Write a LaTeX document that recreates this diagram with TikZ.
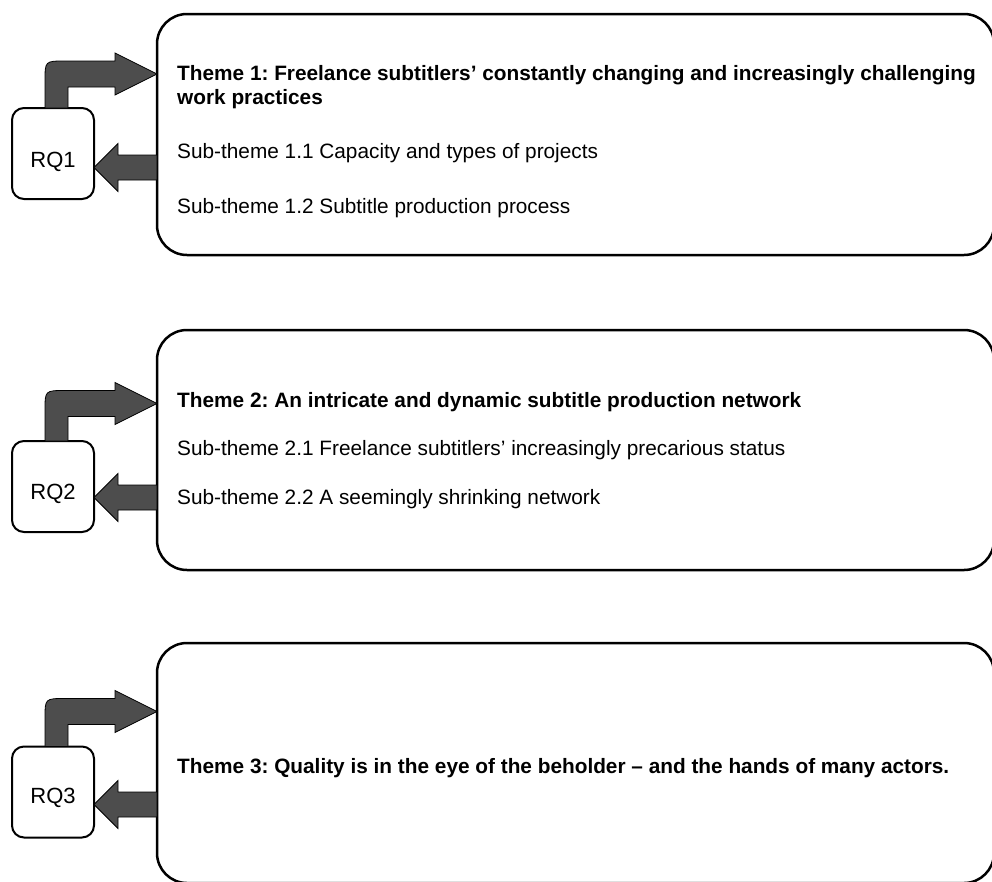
\documentclass[tikz,border=0pt]{standalone}
\usepackage{fontspec}
\setmainfont{Liberation Sans}
\usetikzlibrary{calc}
\frenchspacing
\definecolor{arrowgray}{RGB}{77,77,77}
\tikzset{
  themebox/.style={draw=black, line width=2.5pt, rounded corners=30pt, fill=white,
    minimum width=837pt, outer sep=0pt, inner sep=0pt},
  rqbox/.style={draw=black, line width=2pt, rounded corners=12pt, fill=white,
    minimum width=82pt, minimum height=91pt, outer sep=0pt, inner sep=0pt,
    font=\fontsize{22}{26}\selectfont},
  arrowshape/.style={fill=arrowgray, draw=black, line width=0.8pt, line join=miter},
  headtxt/.style={anchor=base west, inner sep=0pt, font=\fontsize{20.8}{24}\selectfont\bfseries},
  subtxt/.style={anchor=base west, inner sep=0pt, font=\fontsize{20.8}{24}\selectfont},
}
\newcommand\bentarrow[3]{%
  \coordinate (#1ty) at ($(#1.north west)+(0,-#3)$);
  \coordinate (#1tip) at (#2.west |- #1ty);
  \draw[arrowshape] ($(#1.north west)+(33,0)$) -- ($(#1ty)+(33,7)$)
    .. controls ($(#1ty)+(33,-13)$) .. ($(#1ty)+(53,-13)$)
    -- ($(#1tip)+(-42,-13)$) -- ($(#1tip)+(-42,-21)$) -- (#1tip)
    -- ($(#1tip)+(-42,21)$) -- ($(#1tip)+(-42,13)$) -- ($(#1ty)+(56,13)$)
    -- ($(#1.north west)+(56,0)$) -- cycle;}
\newcommand\backarrow[3]{%
  \coordinate (#2ly) at ($(#2.center)+(0,#3)$);
  \coordinate (#2ltip) at (#2.east |- #2ly);
  \coordinate (#2lstart) at (#1.west |- #2ly);
  \draw[arrowshape] ($(#2lstart)+(0,-12.5)$) -- ($(#2ltip)+(24,-12.5)$)
    -- ($(#2ltip)+(24,-24)$) -- (#2ltip) -- ($(#2ltip)+(24,24)$)
    -- ($(#2ltip)+(24,12.5)$) -- ($(#2lstart)+(0,12.5)$) -- cycle;}
\begin{document}
\begin{tikzpicture}[x=1pt,y=-1pt]
\clip (0,0) rectangle (992,881);
% theme boxes
\node[themebox, minimum height=241pt] (b1) at (575.5,134.5) {};
\node[themebox, minimum height=240pt] (b2) at (575.5,450) {};
\node[themebox, minimum height=240pt] (b3) at (575.5,763) {};
% RQ boxes
\node[rqbox] (rq1) at (53,153.5) {\raisebox{-13.5pt}[0pt][0pt]{RQ1}};
\node[rqbox] (rq2) at (53,486.5) {\raisebox{-12.5pt}[0pt][0pt]{RQ2}};
\node[rqbox] (rq3) at (53,792) {\raisebox{-11pt}[0pt][0pt]{RQ3}};
% arrows
\bentarrow{rq1}{b1}{34}
\backarrow{b1}{rq1}{14}
\bentarrow{rq2}{b2}{37.5}
\backarrow{b2}{rq2}{11}
\bentarrow{rq3}{b3}{35}
\backarrow{b3}{rq3}{12.5}
% texts
\node[headtxt] (h1a) at (177,80) {Theme 1: Freelance subtitlers’ constantly changing and increasingly challenging};
\node[headtxt] (h1b) at (177,104) {work practices};
\node[subtxt] (s11) at (177,158) {Sub-theme 1.1 Capacity and types of projects};
\node[subtxt] (s12) at (177,213) {Sub-theme 1.2 Subtitle production process};
\node[headtxt] (h2) at (177,407) {Theme 2: An intricate and dynamic subtitle production network};
\node[subtxt] (s21) at (177,455) {Sub-theme 2.1 Freelance subtitlers’ increasingly precarious status};
\node[subtxt] (s22) at (177,504) {Sub-theme 2.2 A seemingly shrinking network};
\node[headtxt] (h3) at (177,773) {Theme 3: Quality is in the eye of the beholder – and the hands of many actors.};
\end{tikzpicture}
\end{document}
